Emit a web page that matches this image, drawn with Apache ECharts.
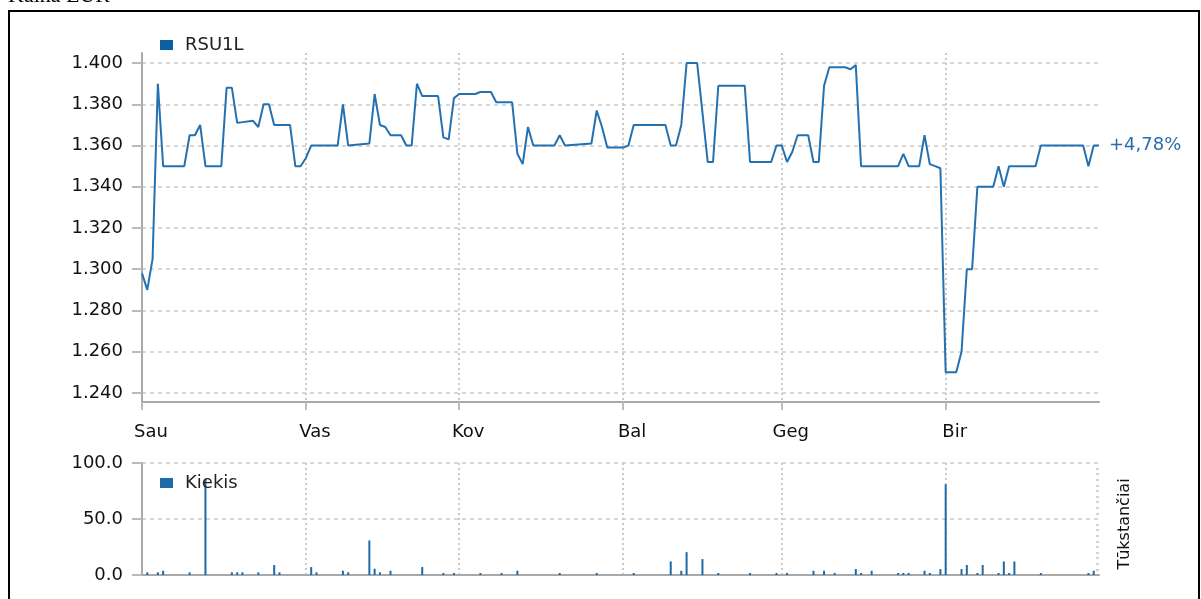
<!DOCTYPE html>
<html>
<head>
<meta charset="utf-8">
<script src="https://cdn.jsdelivr.net/npm/echarts@6/dist/echarts.min.js"></script>
<style>
  html, body { margin: 0; padding: 0; background: #fff; }
  #chart { width: 1201px; height: 599px; }
</style>
</head>
<body>
<div id="chart"></div>
<script>
// kaina (EUR) - dienos uzdarymo kainos
const priceDates = [
  '2016-01-01', '2016-01-02', '2016-01-03', '2016-01-04', '2016-01-05', '2016-01-09', '2016-01-10', '2016-01-11',
  '2016-01-12', '2016-01-13', '2016-01-16', '2016-01-17', '2016-01-18', '2016-01-19', '2016-01-22', '2016-01-23',
  '2016-01-24', '2016-01-25', '2016-01-26', '2016-01-29', '2016-01-30', '2016-01-31', '2016-02-01', '2016-02-02',
  '2016-02-07', '2016-02-08', '2016-02-09', '2016-02-13', '2016-02-14', '2016-02-15', '2016-02-16', '2016-02-17',
  '2016-02-19', '2016-02-20', '2016-02-21', '2016-02-22', '2016-02-23', '2016-02-26', '2016-02-27', '2016-02-28',
  '2016-02-29', '2016-03-01', '2016-03-04', '2016-03-05', '2016-03-07', '2016-03-08', '2016-03-11', '2016-03-12',
  '2016-03-13', '2016-03-14', '2016-03-15', '2016-03-19', '2016-03-20', '2016-03-21', '2016-03-26', '2016-03-27',
  '2016-03-28', '2016-03-29', '2016-04-01', '2016-04-02', '2016-04-03', '2016-04-09', '2016-04-10', '2016-04-11',
  '2016-04-12', '2016-04-13', '2016-04-15', '2016-04-17', '2016-04-18', '2016-04-19', '2016-04-24', '2016-04-25',
  '2016-04-29', '2016-04-30', '2016-05-01', '2016-05-02', '2016-05-03', '2016-05-04', '2016-05-06', '2016-05-07',
  '2016-05-08', '2016-05-09', '2016-05-10', '2016-05-13', '2016-05-14', '2016-05-15', '2016-05-16', '2016-05-23',
  '2016-05-24', '2016-05-25', '2016-05-27', '2016-05-28', '2016-05-29', '2016-05-30', '2016-05-31', '2016-06-01',
  '2016-06-03', '2016-06-04', '2016-06-05', '2016-06-06', '2016-06-07', '2016-06-10', '2016-06-11', '2016-06-12',
  '2016-06-13', '2016-06-18', '2016-06-19', '2016-06-27', '2016-06-28', '2016-06-29', '2016-06-30'
]
const priceValues = [
  1.298, 1.290, 1.305, 1.390, 1.350, 1.350, 1.365, 1.365,
  1.370, 1.350, 1.350, 1.388, 1.388, 1.371, 1.372, 1.369,
  1.380, 1.380, 1.370, 1.370, 1.350, 1.350, 1.354, 1.360,
  1.360, 1.380, 1.360, 1.361, 1.385, 1.370, 1.369, 1.365,
  1.365, 1.360, 1.360, 1.390, 1.384, 1.384, 1.364, 1.363,
  1.383, 1.385, 1.385, 1.386, 1.386, 1.381, 1.381, 1.356,
  1.351, 1.369, 1.360, 1.360, 1.365, 1.360, 1.361, 1.377,
  1.369, 1.359, 1.359, 1.360, 1.370, 1.370, 1.360, 1.360,
  1.370, 1.400, 1.400, 1.352, 1.352, 1.389, 1.389, 1.352,
  1.352, 1.360, 1.360, 1.352, 1.357, 1.365, 1.365, 1.352,
  1.352, 1.389, 1.398, 1.398, 1.397, 1.399, 1.350, 1.350,
  1.356, 1.350, 1.350, 1.365, 1.351, 1.350, 1.349, 1.250,
  1.250, 1.260, 1.300, 1.300, 1.340, 1.340, 1.350, 1.340,
  1.350, 1.350, 1.360, 1.360, 1.350, 1.360, 1.360
]

// kiekis (tukstanciai)
const volumeDates = [
  '2016-01-02', '2016-01-04', '2016-01-05', '2016-01-10', '2016-01-13', '2016-01-18', '2016-01-19', '2016-01-20',
  '2016-01-23', '2016-01-26', '2016-01-27', '2016-02-02', '2016-02-03', '2016-02-08', '2016-02-09', '2016-02-13',
  '2016-02-14', '2016-02-15', '2016-02-17', '2016-02-23', '2016-02-27', '2016-02-29', '2016-03-05', '2016-03-09',
  '2016-03-12', '2016-03-20', '2016-03-27', '2016-04-03', '2016-04-10', '2016-04-12', '2016-04-13', '2016-04-16',
  '2016-04-19', '2016-04-25', '2016-04-30', '2016-05-02', '2016-05-07', '2016-05-09', '2016-05-11', '2016-05-15',
  '2016-05-16', '2016-05-18', '2016-05-23', '2016-05-24', '2016-05-25', '2016-05-28', '2016-05-29', '2016-05-31',
  '2016-06-01', '2016-06-04', '2016-06-05', '2016-06-07', '2016-06-08', '2016-06-11', '2016-06-12', '2016-06-13',
  '2016-06-14', '2016-06-19', '2016-06-28', '2016-06-29'
]
const volumeValues = [
  2.4, 2.4, 3.8, 2.4, 86, 2.4, 2.4, 2.4,
  2.4, 8.9, 2.4, 7.1, 2.4, 3.8, 2.4, 30.8,
  5.6, 2.4, 3.8, 7.1, 1.8, 1.8, 1.8, 1.8,
  3.8, 1.8, 1.8, 1.8, 12.1, 3.8, 20.4, 14.2,
  1.8, 1.8, 1.8, 1.8, 3.8, 3.8, 1.8, 5.3,
  1.8, 3.8, 1.8, 1.8, 1.8, 3.8, 1.8, 5.3,
  81, 5.3, 8.9, 1.8, 8.9, 1.8, 12.1, 1.8,
  12.1, 1.8, 1.8, 3.8
]

const monthStarts = ['2016-01-01', '2016-02-01', '2016-03-01', '2016-04-01', '2016-05-01', '2016-06-01']
const monthNames = ['Sau', 'Vas', 'Kov', 'Bal', 'Geg', 'Bir']
const priceTicks = [1.24, 1.26, 1.28, 1.30, 1.32, 1.34, 1.36, 1.38, 1.40]
const periodStart = '2016-01-01'
const periodEnd = '2016-06-30'

// data -> dienos nuo laikotarpio pradzios
function dayIndex(s) {
  const p = s.split('-').map(Number)
  const b = periodStart.split('-').map(Number)
  return Math.round((Date.UTC(p[0], p[1] - 1, p[2]) - Date.UTC(b[0], b[1] - 1, b[2])) / 86400000)
}

const monthDays = monthStarts.map(dayIndex)
const firstPrice = priceValues[0]
const lastPrice = priceValues[priceValues.length - 1]
const change = ((lastPrice / firstPrice - 1) * 100).toFixed(2).replace('.', ',')

const font = 'DejaVu Sans'
const blue = '#2471b1'
const gridColor = '#c9c9c9'
const axisColor = '#a9a9a9'

const chart = echarts.init(document.getElementById('chart'))

chart.setOption({
  animation: false,
  backgroundColor: '#fff',
  textStyle: { fontFamily: font },
  graphic: [
    {
      type: 'text',
      x: 8,
      y: 7,
      style: { text: 'Kaina EUR', font: '22px "Liberation Serif"', fill: '#000', verticalAlign: 'bottom' }
    },
    {
      type: 'rect',
      shape: { x: 9, y: 11, width: 1190, height: 600 },
      style: { fill: 'none', stroke: '#000', lineWidth: 2 }
    },
    {
      type: 'text',
      x: 1125,
      y: 524,
      rotation: Math.PI / 2,
      style: { text: 'Tūkstančiai', font: '16px "DejaVu Sans"', fill: '#111', align: 'center', verticalAlign: 'middle' }
    }
  ],
  legend: [
    {
      data: ['RSU1L'],
      left: 155,
      top: 31,
      itemWidth: 13,
      itemHeight: 10,
      icon: 'rect',
      textStyle: { fontSize: 18, color: '#222', padding: [0, 0, 0, 7] }
    },
    {
      data: ['Kiekis'],
      left: 155,
      top: 469,
      itemWidth: 13,
      itemHeight: 10,
      icon: 'rect',
      textStyle: { fontSize: 18, color: '#222', padding: [0, 0, 0, 7] }
    }
  ],
  grid: [
    { left: 142, right: 102, top: 53, height: 349 },
    { left: 142, right: 102, top: 463, height: 112 }
  ],
  xAxis: [
    {
      type: 'value',
      gridIndex: 0,
      min: 0,
      max: dayIndex(periodEnd),
      axisLine: { lineStyle: { color: axisColor, width: 2 } },
      axisTick: { customValues: monthDays, length: 8, lineStyle: { color: '#bbb', width: 2 } },
      axisLabel: {
        customValues: monthDays,
        formatter: v => monthNames[monthDays.indexOf(Math.round(v))],
        fontSize: 18,
        color: '#111',
        margin: 21,
        padding: [0, 0, 0, 18]
      },
      splitLine: { show: true, lineStyle: { color: gridColor, type: [2, 3], width: 2 } }
    },
    {
      type: 'value',
      gridIndex: 1,
      min: 0,
      max: dayIndex(periodEnd),
      axisLine: { lineStyle: { color: axisColor, width: 2 } },
      axisTick: { show: false, customValues: monthDays },
      axisLabel: { show: false, customValues: monthDays },
      splitLine: { show: true, lineStyle: { color: gridColor, type: [2, 3], width: 2 } }
    }
  ],
  yAxis: [
    {
      type: 'value',
      gridIndex: 0,
      min: 1.2356,
      max: 1.4049,
      axisLine: { show: true, lineStyle: { color: axisColor, width: 2 } },
      axisTick: { show: true, customValues: priceTicks, length: 10, lineStyle: { color: '#bbb', width: 2 } },
      axisLabel: {
        customValues: priceTicks,
        formatter: v => v.toFixed(3),
        fontSize: 18,
        color: '#111',
        margin: 19
      },
      splitLine: { show: true, lineStyle: { color: gridColor, type: [4, 4], width: 1.5 } }
    },
    {
      type: 'value',
      gridIndex: 1,
      min: 0,
      max: 100,
      interval: 50,
      axisLine: { show: true, lineStyle: { color: axisColor, width: 2 } },
      axisTick: { show: true, length: 10, lineStyle: { color: '#bbb', width: 2 } },
      axisLabel: { formatter: v => v.toFixed(1), fontSize: 18, color: '#111', margin: 19 },
      splitLine: { show: true, lineStyle: { color: gridColor, type: [4, 4], width: 1.5 } }
    },
    {
      // tik smulkios padalos vidinei pusei
      type: 'value',
      gridIndex: 1,
      min: 0,
      max: 100,
      interval: 50,
      axisLine: { show: false },
      axisTick: { show: false, inside: true },
      minorTick: { show: true, splitNumber: 10, length: 3, lineStyle: { color: '#c4c4c4', width: 1.5 } },
      axisLabel: { show: false },
      splitLine: { show: false }
    }
  ],
  series: [
    {
      name: 'RSU1L',
      type: 'line',
      xAxisIndex: 0,
      yAxisIndex: 0,
      data: priceDates.map((d, i) => [dayIndex(d), priceValues[i]]),
      symbol: 'none',
      itemStyle: { color: '#0e5f9f' },
      lineStyle: { color: blue, width: 2 },
      endLabel: {
        show: true,
        formatter: '+' + change + '%',
        color: '#2a6ea8',
        fontSize: 18,
        distance: 10
      }
    },
    {
      name: 'Kiekis',
      type: 'bar',
      xAxisIndex: 1,
      yAxisIndex: 1,
      data: volumeDates.map((d, i) => [dayIndex(d), volumeValues[i]]),
      barWidth: 2,
      itemStyle: { color: '#1c6aa8' }
    }
  ]
})
</script>
</body>
</html>
